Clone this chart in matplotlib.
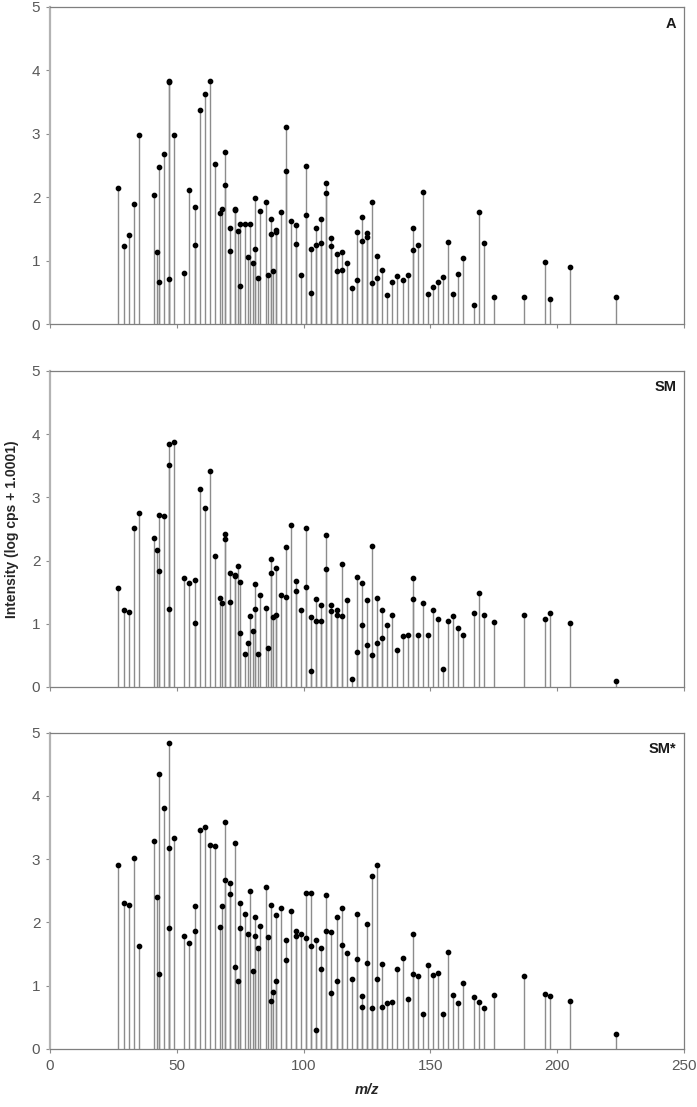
import matplotlib
matplotlib.use("Agg")
import matplotlib.pyplot as plt

plt.rcParams['font.family'] = ['Liberation Sans', 'DejaVu Sans']

# m/z of the peaks (one entry per point, repeated m/z = several points on one stem)
mz_a = [27, 29, 31, 33, 35, 41, 42, 43, 43, 45,
        47, 47, 47, 49, 53, 55, 57, 57, 59, 61,
        63, 65, 67, 68, 69, 69, 71, 71, 73, 73,
        74, 75, 75, 77, 78, 79, 80, 81, 81, 82,
        83, 85, 86, 87, 87, 88, 89, 89, 91, 93,
        93, 95, 97, 97, 99, 101, 101, 103, 103, 105,
        105, 107, 107, 109, 109, 111, 111, 113, 113, 115,
        115, 117, 119, 121, 121, 123, 123, 125, 125, 127,
        127, 129, 129, 131, 133, 135, 137, 139, 141, 143,
        143, 145, 147, 149, 151, 153, 155, 157, 159, 161,
        163, 167, 169, 171, 175, 187, 195, 197, 205, 223]
int_a = [2.15, 1.23, 1.40, 1.89, 2.98, 2.03, 1.13, 2.47, 0.67, 2.68,
         3.84, 3.82, 0.71, 2.98, 0.81, 2.11, 1.84, 1.25, 3.37, 3.63,
         3.83, 2.53, 1.75, 1.82, 2.72, 2.19, 1.51, 1.15, 1.82, 1.80,
         1.47, 1.58, 0.60, 1.57, 1.05, 1.57, 0.97, 1.99, 1.18, 0.73,
         1.79, 1.93, 0.77, 1.65, 1.42, 0.84, 1.49, 1.45, 1.77, 3.10,
         2.41, 1.62, 1.56, 1.26, 0.78, 2.50, 1.72, 1.19, 0.49, 1.52,
         1.24, 1.66, 1.28, 2.22, 2.07, 1.35, 1.23, 1.11, 0.83, 1.13,
         0.85, 0.96, 0.56, 1.45, 0.69, 1.68, 1.31, 1.43, 1.37, 1.93,
         0.65, 1.08, 0.73, 0.85, 0.45, 0.67, 0.75, 0.69, 0.77, 1.51,
         1.17, 1.25, 2.08, 0.48, 0.58, 0.66, 0.74, 1.30, 0.47, 0.79,
         1.04, 0.30, 1.76, 1.27, 0.42, 0.43, 0.98, 0.39, 0.90, 0.43]

mz_sm = [27, 29, 31, 33, 35, 41, 42, 43, 43, 45,
         47, 47, 47, 49, 53, 55, 57, 57, 59, 61,
         63, 65, 67, 68, 69, 69, 71, 71, 73, 73,
         74, 75, 75, 77, 78, 79, 80, 81, 81, 82,
         83, 85, 86, 87, 87, 88, 89, 89, 91, 93,
         93, 95, 97, 97, 99, 101, 101, 103, 103, 105,
         105, 107, 107, 109, 109, 111, 111, 113, 113, 115,
         115, 117, 119, 121, 121, 123, 123, 125, 125, 127,
         127, 129, 129, 131, 131, 133, 135, 137, 139, 141,
         143, 143, 145, 147, 149, 151, 153, 155, 157, 159,
         161, 163, 167, 169, 171, 175, 187, 195, 197, 205,
         223]
int_sm = [1.56, 1.22, 1.18, 2.51, 2.75, 2.35, 2.16, 2.72, 1.84, 2.70,
          3.84, 3.51, 1.24, 3.87, 1.72, 1.65, 1.70, 1.02, 3.14, 2.84,
          3.42, 2.08, 1.41, 1.33, 2.42, 2.34, 1.81, 1.34, 1.77, 1.75,
          1.92, 1.66, 0.85, 0.52, 0.69, 1.12, 0.89, 1.63, 1.24, 0.52,
          1.45, 1.25, 0.62, 2.03, 1.80, 1.10, 1.88, 1.14, 1.46, 2.21,
          1.43, 2.56, 1.67, 1.52, 1.22, 2.51, 1.59, 1.10, 0.26, 1.39,
          1.05, 1.29, 1.05, 2.41, 1.87, 1.29, 1.20, 1.22, 1.14, 1.95,
          1.12, 1.37, 0.12, 1.74, 0.55, 1.65, 0.98, 1.37, 0.67, 2.23,
          0.51, 1.41, 0.69, 1.22, 0.78, 0.98, 1.14, 0.59, 0.81, 0.82,
          1.72, 1.40, 0.82, 1.33, 0.82, 1.22, 1.08, 0.28, 1.04, 1.12,
          0.94, 0.83, 1.17, 1.48, 1.14, 1.03, 1.14, 1.08, 1.17, 1.01,
          0.10]

mz_smx = list(mz_sm)
int_smx = [2.90, 2.31, 2.27, 3.02, 1.62, 3.28, 2.40, 4.35, 1.18, 3.80,
           4.83, 3.18, 1.91, 3.34, 1.79, 1.67, 2.26, 1.86, 3.46, 3.51,
           3.23, 3.21, 1.92, 2.26, 3.58, 2.67, 2.62, 2.45, 3.26, 1.29,
           1.07, 2.31, 1.91, 2.14, 1.81, 2.49, 1.24, 2.09, 1.79, 1.60,
           1.94, 2.56, 1.77, 2.27, 0.76, 0.90, 2.11, 1.08, 2.22, 1.72,
           1.41, 2.18, 1.86, 1.78, 1.81, 2.47, 1.76, 2.47, 1.62, 1.72,
           0.30, 1.60, 1.27, 2.44, 1.86, 1.85, 0.89, 2.09, 1.07, 2.22,
           1.65, 1.51, 1.11, 2.14, 1.42, 0.84, 0.67, 1.97, 1.36, 2.74,
           0.64, 2.90, 1.11, 1.35, 0.66, 0.72, 0.75, 1.26, 1.43, 0.79,
           1.82, 1.18, 1.15, 0.55, 1.33, 1.17, 1.20, 0.55, 1.53, 0.86,
           0.73, 1.04, 0.82, 0.74, 0.65, 0.86, 1.15, 0.87, 0.84, 0.76,
           0.23]

panels = [("A", mz_a, int_a), ("SM", mz_sm, int_sm), ("SM*", mz_smx, int_smx)]

fig = plt.figure(figsize=(6.97, 11.07), dpi=100)
W, H = 697, 1107
# (top, bottom) pixel rows of each plot area
rows = [(7, 324), (371, 687), (732.5, 1049)]
left, right = 50, 684

tick_col = "#595959"
axes = []
for (name, mz, inten), (top, bot) in zip(panels, rows):
    ax = fig.add_axes([left / W, 1 - bot / H, (right - left) / W, (bot - top) / H])
    ax.vlines(mz, 0, inten, colors="#8c8c8c", linewidth=1.0, zorder=1)
    ax.plot(mz, inten, "o", color="black", markersize=3.1, zorder=2)
    ax.set_xlim(0, 250)
    ax.set_ylim(0, 5)
    ax.set_xticks(range(0, 251, 50))
    ax.set_yticks(range(0, 6))
    ax.tick_params(direction="out", length=3, width=0.8, colors="#8c8c8c",
                   labelcolor=tick_col, labelsize=11, pad=4)
    for s in ("top", "right", "bottom"):
        ax.spines[s].set_color("#7f7f7f")
        ax.spines[s].set_linewidth(0.9)
    ax.spines["left"].set_color("#b3b3b3")
    ax.spines["left"].set_linewidth(1.6)
    ax.text(0.988, 0.97, name, transform=ax.transAxes, ha="right", va="top",
            fontsize=10.5, fontweight="bold", color="#1a1a1a")
    axes.append(ax)

for ax in axes[:-1]:
    ax.tick_params(axis="x", labelbottom=False)

fig.text(12 / W, 1 - 529 / H, "Intensity (log cps + 1.0001)", rotation=90,
         ha="center", va="center", fontsize=10, fontweight="bold", color="#262626")
fig.text((left + right) / 2 / W, 1 - 1090 / H, "m/z", ha="center", va="center",
         fontsize=10.5, fontweight="bold", fontstyle="italic", color="#262626")

fig.savefig("out.png", dpi=100)
